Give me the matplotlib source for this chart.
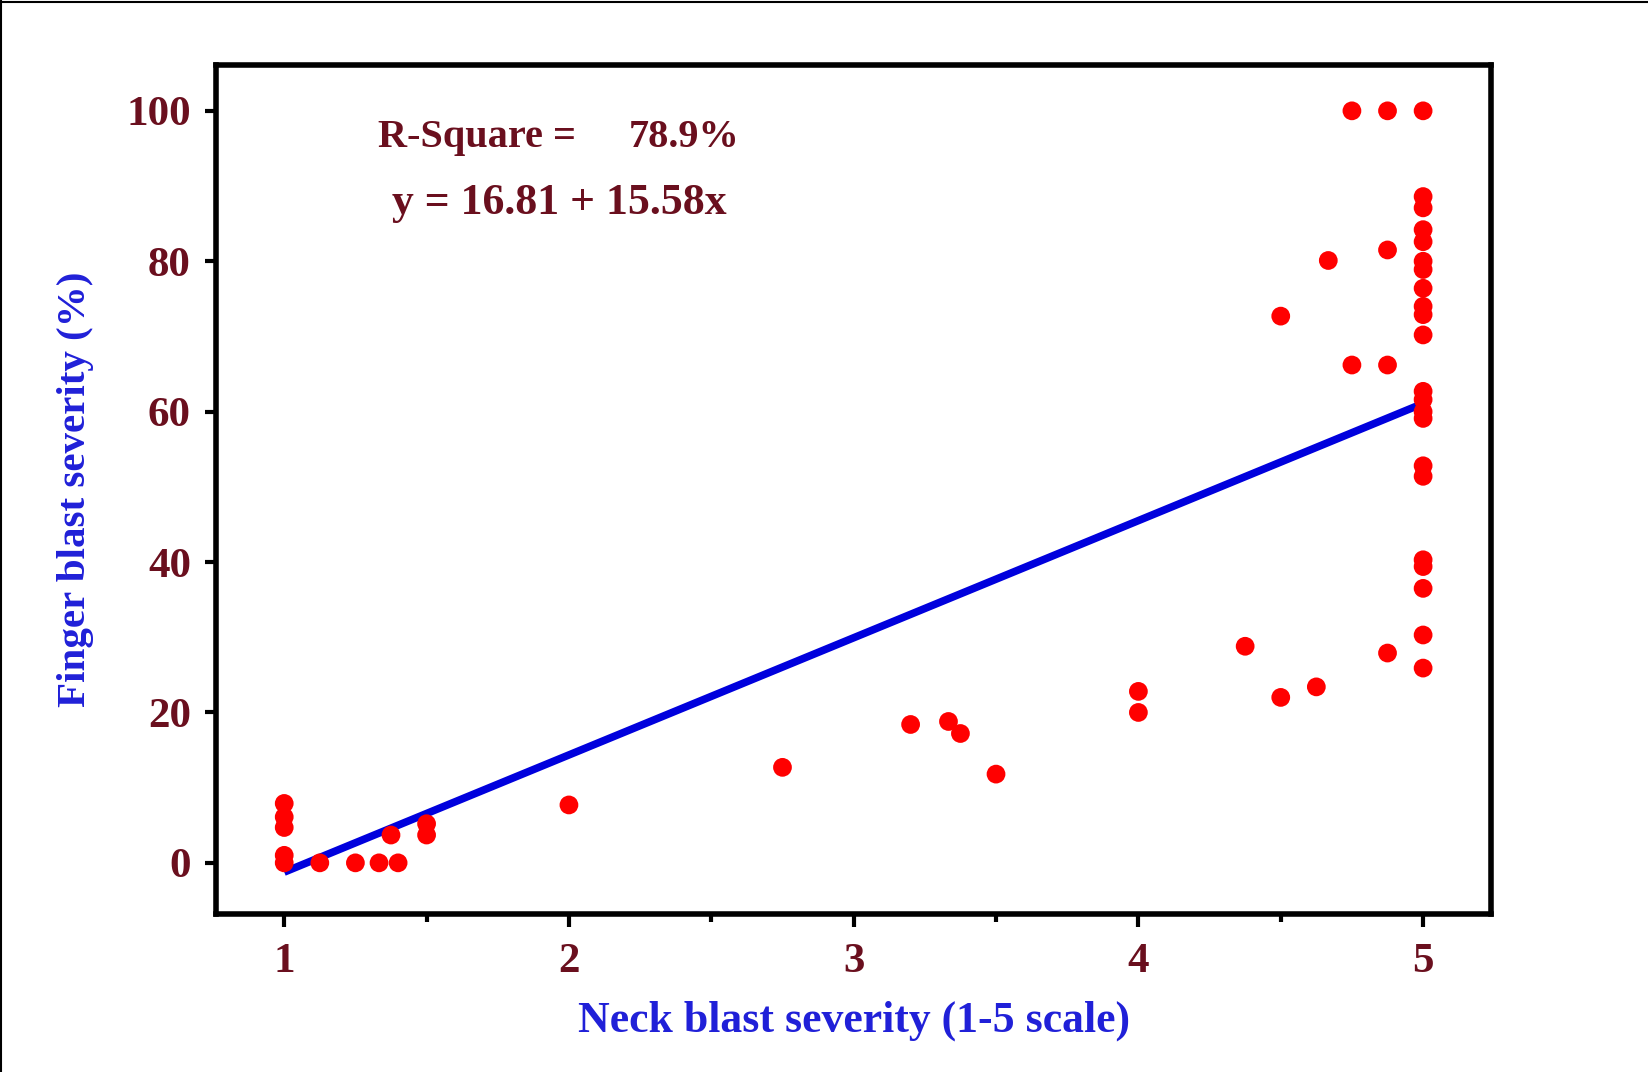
import matplotlib
matplotlib.use("Agg")
import matplotlib.pyplot as plt
from matplotlib.lines import Line2D

# ---- data ----
neck_x = [1, 1, 1, 1, 1, 1.125, 1.25, 1.333, 1.4, 1.375, 1.5, 1.5,
          2, 2.75, 3.2, 3.333, 3.375, 3.5, 4, 4, 4.375, 4.5, 4.5, 4.625,
          4.667, 4.75, 4.875, 4.875, 4.875,
          4.75, 4.875, 5,
          5, 5, 5, 5, 5, 5, 5, 5, 5, 5,
          5, 5, 5, 5, 5, 5, 5, 5, 5, 5, 5]
finger_y = [0, 1, 4.7, 6.1, 7.9, 0, 0, 0, 0, 3.7, 3.7, 5.2,
            7.7, 12.7, 18.4, 18.8, 17.2, 11.8, 20.0, 22.8, 28.8, 22.0, 72.7, 23.4,
            80.1, 66.2, 66.2, 81.5, 27.9,
            100, 100, 100,
            88.6, 87.1, 84.2, 82.6, 80.0, 78.9, 76.4, 74.0, 72.9, 70.2,
            62.7, 61.6, 60.0, 59.1, 52.8, 51.4, 40.3, 39.4, 36.5, 30.3, 25.9]

line_intercept = -16.81
line_slope = 15.58
line_x = [1, 5]

x_ticks = [1, 2, 3, 4, 5]
x_minor = [1.5, 2.5, 3.5, 4.5]
y_ticks = [0, 20, 40, 60, 80, 100]

r_square_label = "R-Square ="
r_square_value = "78.9%"
equation_text = "y = 16.81 + 15.58x"
xlabel = "Neck blast severity (1-5 scale)"
ylabel = "Finger blast severity (%)"

# ---- styling ----
maroon = "#6A0F1E"
blue_lbl = "#2020D8"
serif = ["Liberation Serif", "DejaVu Serif"]

fig = plt.figure(figsize=(16.48, 10.72), dpi=100)
ax = fig.add_axes([0.131, 0.1474, 0.774, 0.792])

ax.plot(line_x, [line_intercept + line_slope * v for v in line_x],
        color="#0000DD", lw=5.5, zorder=2, solid_capstyle="butt")
ax.scatter(neck_x, finger_y, s=13.5**2, color="#FF0000", zorder=3,
           edgecolors="none")

ax.set_xlim(0.76, 5.24)
ax.set_ylim(-6.8, 106.1)
ax.set_xticks(x_ticks)
ax.set_xticks(x_minor, minor=True)
ax.set_yticks(y_ticks)
ax.set_xticklabels([str(t) for t in x_ticks])
ax.set_yticklabels([str(t) for t in y_ticks])

for lab in ax.get_xticklabels() + ax.get_yticklabels():
    lab.set_family(serif)
    lab.set_fontweight("bold")
    lab.set_fontsize(31)
    lab.set_color(maroon)

ax.tick_params(axis="x", which="major", direction="out", length=9, width=3, pad=12)
ax.tick_params(axis="x", which="minor", direction="out", length=6, width=3)
ax.tick_params(axis="y", which="major", direction="out", length=8, width=3, pad=10)

for sp in ax.spines.values():
    sp.set_linewidth(4)
    sp.set_color("black")

ax.set_xlabel(xlabel, family=serif, fontweight="bold", fontsize=31.5,
              color=blue_lbl, labelpad=14)
ax.set_ylabel(ylabel, family=serif, fontweight="bold", fontsize=29.5,
              color=blue_lbl, labelpad=23)

ax.text(1.33, 96.4, r_square_label, family=serif, fontweight="bold",
        fontsize=29, color=maroon, va="center", ha="left")
ax.text(2.21, 96.4, r_square_value, family=serif, fontweight="bold",
        fontsize=29, color=maroon, va="center", ha="left")
ax.text(1.38, 87.8, equation_text, family=serif, fontweight="bold",
        fontsize=31.5, color=maroon, va="center", ha="left")

# thin figure border (top and left)
fig.add_artist(Line2D([0, 1], [0.9985, 0.9985], transform=fig.transFigure,
                      color="black", lw=1.5))
fig.add_artist(Line2D([0.0008, 0.0008], [0, 1], transform=fig.transFigure,
                      color="black", lw=1.5))

fig.savefig("out.png", dpi=100, facecolor="white")
